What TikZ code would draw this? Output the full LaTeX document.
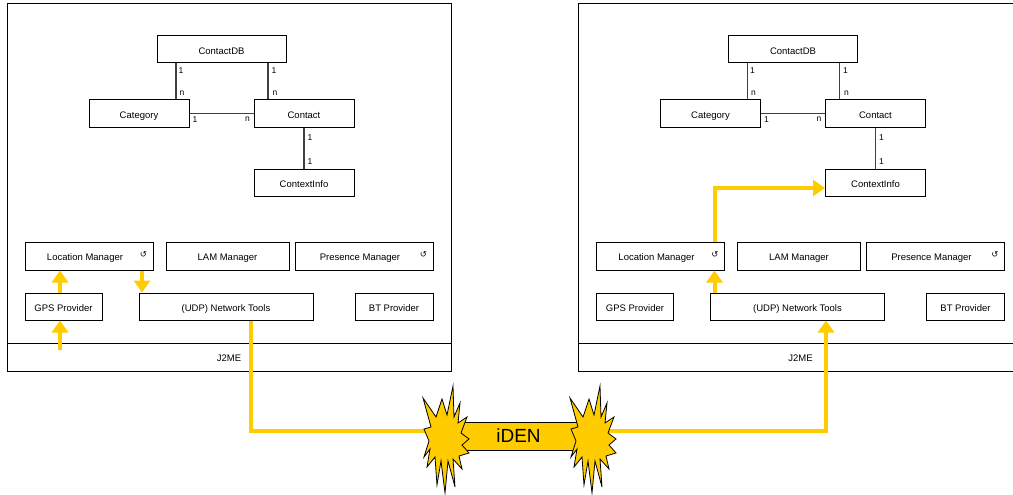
\documentclass[tikz,border=0pt]{standalone}
\usepackage{fontspec}
\setmainfont{Liberation Sans}
\newfontfamily\symfont{DejaVu Sans}
\usetikzlibrary{arrows.meta,calc}
\definecolor{idenyellow}{RGB}{255,204,0}
\tikzset{
  box/.style={draw=black, line width=1pt, fill=white, inner sep=0pt,
    font=\fontsize{9.5}{11}\selectfont, minimum height=27pt, text height=9.5pt, text depth=0pt},
  uml/.style={draw=black!75, line width=1.3pt},
  mult/.style={font=\fontsize{8.5}{9}\selectfont, inner sep=0pt},
  panel/.style={draw=black, line width=1pt},
  flow/.style={draw=idenyellow, line width=4pt},
  flowarrow/.style={flow, -{Triangle[width=16pt,length=12pt]}},
  burst/.style={draw=black, line width=0.8pt, fill=idenyellow, line join=miter},
  refresh/.style={font=\symfont\fontsize{8.5}{9}\selectfont, inner sep=0pt},
  pics/starburst/.style={code={
    \draw[burst] (-22,-39) -- (-9,-20) -- (-3,-38) -- (2,-22) -- (8,-51) -- (9,-20)
      -- (15,-34) -- (13,-14) -- (22,-20) -- (16,-4) -- (24,2) -- (17,8) -- (24,16)
      -- (14,19) -- (17,32) -- (8,22) -- (10,50) -- (3,24) -- (0,56) -- (-4,24)
      -- (-8,48) -- (-10,20) -- (-18,30) -- (-15,12) -- (-21,20) -- (-16,4)
      -- (-21,-8) -- (-14,-10) -- cycle;
  }},
}
\begin{document}
\begin{tikzpicture}[x=1pt,y=-1pt]
\useasboundingbox (0,0) rectangle (1013,495);
\clip (0,0) rectangle (1013,495);
\fill[white] (0,0) rectangle (1013,495);

\foreach \dx/\s in {0/L,571.5/R}{
\begin{scope}[xshift=\dx pt]
  \draw[panel] (7,4) rectangle (451,371);
  \node[box, minimum width=444pt, minimum height=28pt] (j2me\s) at (229,357) {J2ME};
  % data model
  \node[box, minimum width=129pt] (cdb\s) at (221.5,49.5) {ContactDB};
  \node[box, minimum width=100pt] (cat\s) at (139,113.5) {Category};
  \node[box, minimum width=100pt] (con\s) at (304,113.5) {Contact};
  \node[box, minimum width=100pt] (ctx\s) at (304,182.5) {ContextInfo};
  \draw[uml] ([xshift=37pt]cat\s.north) -- ([xshift=37pt]cat\s.north |- cdb\s.south);
  \draw[uml] ([xshift=-36pt]con\s.north) -- ([xshift=-36pt]con\s.north |- cdb\s.south);
  \draw[uml] (cat\s.east) -- (con\s.west);
  \draw[uml] (con\s.south) -- (ctx\s.north);
  \node[mult] (m1\s) at (181,70.5) {1};
  \node[mult] (m2\s) at (182,93.5) {n};
  \node[mult] (m3\s) at (274,70.5) {1};
  \node[mult] (m4\s) at (275,93.5) {n};
  \node[mult] (m5\s) at (195,119.5) {1};
  \node[mult] (m6\s) at (247.5,119.5) {n};
  \node[mult] (m7\s) at (310,138) {1};
  \node[mult] (m8\s) at (310,162) {1};
  % managers
  \node[box, minimum width=128pt, minimum height=28pt] (lm\s) at (89,256) {Location Manager\hspace*{8pt}};
  \node[box, minimum width=123pt, minimum height=28pt] (lam\s) at (227.5,256) {LAM Manager};
  \node[box, minimum width=138pt, minimum height=28pt] (pm\s) at (364,256) {Presence Manager\hspace*{8pt}};
  \node[refresh] (r1\s) at (143.5,254.5) {↺};
  \node[refresh] (r2\s) at (423.5,254.5) {↺};
  % providers
  \node[box, minimum width=77pt] (gps\s) at (63.5,306.5) {GPS Provider};
  \node[box, minimum width=174pt] (net\s) at (226,306.5) {(UDP) Network Tools};
  \node[box, minimum width=78pt] (bt\s) at (394,306.5) {BT Provider};
\end{scope}
}

% yellow flows, left
\coordinate (gpsin) at (60,350);
\draw[flowarrow] (gpsin) -- (gpsin |- gpsL.south);
\draw[flowarrow] ([xshift=-3.5pt]gpsL.north) -- ([xshift=-3.5pt]gpsL.north |- lmL.south);
\draw[flowarrow] ([xshift=53pt]lmL.south) -- ([xshift=53pt]lmL.south |- netL.north);
\coordinate (burstL) at (445,431);
\coordinate (burstR) at (592,431);
\draw[flow] ([xshift=25pt]netL.south) |- (burstL);
% yellow flows, right
\draw[flowarrow] (burstR) -| ([xshift=28.5pt]netR.south);
\coordinate (lmup) at ([xshift=-10.5pt]lmR.south east);
\draw[flowarrow] (lmup |- netR.north) -- (lmup);
\coordinate (lmtop) at ([xshift=-10.5pt]lmR.north east);
\draw[flowarrow] (lmtop) |- ([yshift=-5.5pt]ctxR.west);

% iDEN link
\node[draw=black, line width=0.8pt, fill=idenyellow, minimum width=120pt, minimum height=28pt,
  inner sep=0pt, font=\fontsize{19}{22}\selectfont] (iden) at (518.5,436) {iDEN};
\pic at (445,437) {starburst};
\pic at (592,437) {starburst};
\end{tikzpicture}
\end{document}
